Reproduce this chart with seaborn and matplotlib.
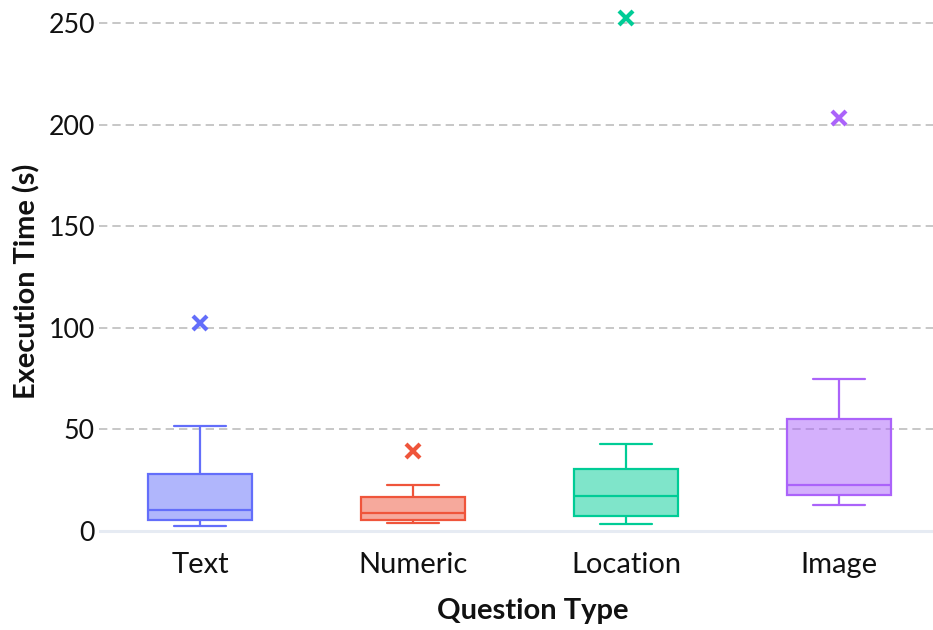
import matplotlib
matplotlib.use("Agg")
import matplotlib.pyplot as plt
from matplotlib.colors import to_rgba
import pandas as pd
import seaborn as sns

# Execution times (seconds) per question type
question_types = ["Text", "Numeric", "Location", "Image"]
text_times = [2.5, 3.6, 4.8, 5.4, 7.2, 8.9, 10.3, 14.6, 21.0, 28.1, 36.5, 51.6, 102.5]
numeric_times = [3.6, 4.2, 4.9, 5.4, 6.3, 7.5, 8.7, 10.8, 13.9, 16.6, 19.4, 22.7, 39.3]
location_times = [3.4, 4.6, 6.1, 7.2, 10.5, 13.8, 17.1, 21.9, 26.3, 30.4, 35.8, 42.7, 252.4]
image_times = [12.7, 14.3, 16.1, 17.6, 19.2, 20.8, 22.5, 31.7, 44.0, 55.0, 63.9, 74.6, 203.2]
y_ticks = [0, 50, 100, 150, 200, 250]

colors = ["#636EFA", "#EF553B", "#00CC96", "#AB63FA"]

df = pd.concat(
    [
        pd.DataFrame({"Question Type": q, "Execution Time (s)": vals})
        for q, vals in zip(
            question_types, [text_times, numeric_times, location_times, image_times]
        )
    ],
    ignore_index=True,
)

sns.set_theme(style="white")
plt.rcParams["font.family"] = ["Lato", "DejaVu Sans"]

fig = plt.figure(figsize=(9.33, 6.30), dpi=100)
W, H = 933, 630
left_px, right_px = 99, 933
top_px, bottom_px = 0.9, 540.9
ax = fig.add_axes([left_px / W, (H - bottom_px) / H,
                   (right_px - left_px) / W, (bottom_px - top_px) / H])

lw = 1.6
for q, c in zip(question_types, colors):
    sub = df[df["Question Type"] == q]
    n_before = len(ax.patches)
    sns.boxplot(
        data=sub, x="Question Type", y="Execution Time (s)", order=question_types,
        color=c, linecolor=c, linewidth=lw, width=0.49, ax=ax,
        flierprops=dict(marker="x", markersize=10, markeredgewidth=3.0,
                        markeredgecolor=c, markerfacecolor=c),
        medianprops=dict(color=c, linewidth=lw),
        whiskerprops=dict(color=c, linewidth=lw),
        capprops=dict(color=c, linewidth=lw),
        zorder=3,
    )
    for p in ax.patches[n_before:]:
        p.set_facecolor(to_rgba(c, 0.5))
        p.set_edgecolor(c)

# dashed horizontal grid, solid zero line
for t in y_ticks[1:]:
    ax.axhline(t, color="#bdbdbd", linewidth=1.2, linestyle=(0, (5, 3)), zorder=0)
ax.axhline(0, color="#e6ebf3", linewidth=2.2, zorder=1)

ax.set_ylim(-5, 261)
ax.set_xlim(-0.474, 3.44)
ax.set_yticks(y_ticks)
ax.set_yticklabels([str(t) for t in y_ticks])
ax.tick_params(axis="y", labelsize=19.3, pad=3, length=0, labelcolor="#111111")
ax.tick_params(axis="x", labelsize=21, pad=8, length=0, labelcolor="#111111")
for s in ax.spines.values():
    s.set_visible(False)
ax.grid(False)

ax.set_xlabel("Question Type", fontsize=21, fontweight="bold", color="#111111")
ax.set_ylabel("Execution Time (s)", fontsize=20.8, fontweight="bold", color="#111111")
ax.xaxis.set_label_coords(0.52, -0.105)
ax.yaxis.set_label_coords(-0.07, 0.481)

fig.savefig("out.png", dpi=100, facecolor="white")
